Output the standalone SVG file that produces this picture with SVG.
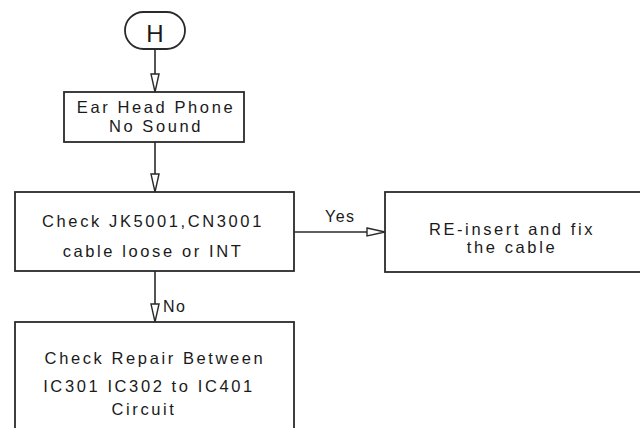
<svg xmlns="http://www.w3.org/2000/svg" width="640" height="428" viewBox="0 0 640 428">
<defs>
<style>
.box{fill:#fff;stroke:#2a2a2a;stroke-width:1.8}
.ln{fill:none;stroke:#2a2a2a;stroke-width:1.6}
.t{font-family:"Liberation Sans",Arial,sans-serif;font-size:16.5px;fill:#1a1a1a;letter-spacing:2.6px;text-anchor:middle}
.lb{font-family:"Liberation Sans",Arial,sans-serif;font-size:16px;fill:#1a1a1a;letter-spacing:1.5px}
</style>
<marker id="ah" viewBox="0 0 20 10" refX="19" refY="5" markerWidth="20" markerHeight="10" markerUnits="userSpaceOnUse" orient="auto">
<path d="M1,1 L19,5 L1,9 Z" fill="#fff" stroke="#2a2a2a" stroke-width="1.4"/>
</marker>
</defs>
<rect width="640" height="428" fill="#fff"/>
<g id="connectors">
<line class="ln" x1="155" y1="49" x2="155" y2="92" marker-end="url(#ah)"/>
<line class="ln" x1="155" y1="142" x2="155" y2="192" marker-end="url(#ah)"/>
<line class="ln" x1="294" y1="232" x2="385" y2="232" marker-end="url(#ah)"/>
<line class="ln" x1="155" y1="271" x2="155" y2="322" marker-end="url(#ah)"/>
<text class="lb" x="325" y="222">Yes</text>
<text class="lb" x="163" y="312">No</text>
</g>
<g id="start">
<rect class="box" x="125" y="12" width="60" height="37" rx="18.5"/>
<text x="155" y="42" font-family="Liberation Sans,Arial,sans-serif" font-size="24" text-anchor="middle" fill="#1a1a1a">H</text>
</g>
<g id="n1">
<rect class="box" x="64" y="92" width="180" height="50"/>
<text class="t" x="156" y="113">Ear Head Phone</text>
<text class="t" x="156" y="132">No Sound</text>
</g>
<g id="n2">
<rect class="box" x="15" y="192" width="279" height="79"/>
<text class="t" x="153" y="227">Check JK5001,CN3001</text>
<text class="t" x="153" y="257">cable loose or INT</text>
</g>
<g id="n3">
<rect class="box" x="385" y="192" width="260" height="80"/>
<text class="t" x="512" y="235">RE-insert and fix</text>
<text class="t" x="512" y="253">the cable</text>
</g>
<g id="n4">
<rect class="box" x="15" y="322" width="279" height="120"/>
<text class="t" x="155" y="364">Check Repair Between</text>
<text class="t" x="149" y="392">IC301 IC302 to IC401</text>
<text class="t" x="144" y="415">Circuit</text>
</g>
</svg>
